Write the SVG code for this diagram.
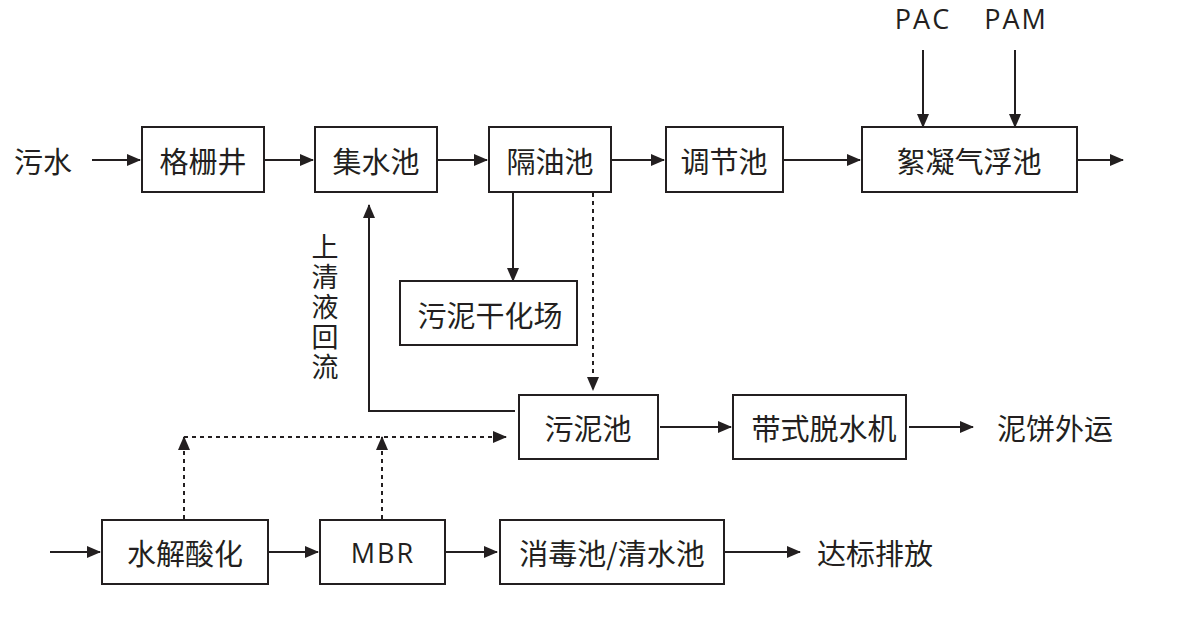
<svg xmlns="http://www.w3.org/2000/svg" width="1200" height="640" viewBox="0 0 1200 640">
<defs>
<style>
.box{fill:#fff;stroke:#231f20;stroke-width:2}
.ln{fill:none;stroke:#231f20;stroke-width:2}
.dot{fill:none;stroke:#231f20;stroke-width:2;stroke-dasharray:4 4}
.t{font-family:"Noto Sans CJK SC","Noto Sans",sans-serif;font-size:29px;fill:#231f20;text-anchor:middle;dominant-baseline:central}
.l{font-family:"Open Sans","Noto Sans",sans-serif;font-size:27px;fill:#231f20;text-anchor:middle;dominant-baseline:central;letter-spacing:2px}
.v{font-family:"Noto Sans CJK SC","Noto Sans",sans-serif;font-size:27px;fill:#231f20;writing-mode:vertical-rl;letter-spacing:3px}
</style>
<marker id="ah" markerUnits="userSpaceOnUse" markerWidth="14" markerHeight="12" refX="13" refY="6" orient="auto">
<path d="M0,0 L14,6 L0,12 Z" fill="#231f20"/>
</marker>
</defs>
<rect width="1200" height="640" fill="#fff"/>

<g id="connectors">
<line class="ln" x1="92" y1="160" x2="140" y2="160" marker-end="url(#ah)"/>
<line class="ln" x1="265" y1="160" x2="313" y2="160" marker-end="url(#ah)"/>
<line class="ln" x1="438" y1="160" x2="487" y2="160" marker-end="url(#ah)"/>
<line class="ln" x1="612" y1="160" x2="664" y2="160" marker-end="url(#ah)"/>
<line class="ln" x1="784" y1="160" x2="860" y2="160" marker-end="url(#ah)"/>
<line class="ln" x1="1078" y1="160" x2="1123" y2="160" marker-end="url(#ah)"/>
<line class="ln" x1="923" y1="50" x2="923" y2="127" marker-end="url(#ah)"/>
<line class="ln" x1="1015" y1="50" x2="1015" y2="127" marker-end="url(#ah)"/>
<line class="ln" x1="513" y1="193" x2="513" y2="281" marker-end="url(#ah)"/>
<line class="dot" x1="593" y1="193" x2="593" y2="390" marker-end="url(#ah)"/>
<polyline class="ln" points="515,411 369,411 369,205" marker-end="url(#ah)"/>
<line class="ln" x1="660" y1="427" x2="731" y2="427" marker-end="url(#ah)"/>
<line class="ln" x1="909" y1="427" x2="973" y2="427" marker-end="url(#ah)"/>
<line class="ln" x1="50" y1="552" x2="100" y2="552" marker-end="url(#ah)"/>
<line class="ln" x1="269" y1="552" x2="318" y2="552" marker-end="url(#ah)"/>
<line class="ln" x1="446" y1="552" x2="497" y2="552" marker-end="url(#ah)"/>
<line class="ln" x1="725" y1="552" x2="800" y2="552" marker-end="url(#ah)"/>
<line class="dot" x1="184" y1="519" x2="184" y2="437" marker-end="url(#ah)"/>
<line class="dot" x1="382" y1="519" x2="382" y2="437" marker-end="url(#ah)"/>
<line class="dot" x1="184" y1="437" x2="506" y2="437" marker-end="url(#ah)"/>
</g>

<g id="labels">
<text class="t" x="43" y="160">污水</text>
<text class="l" x="923" y="18">PAC</text>
<text class="l" x="1016" y="18">PAM</text>
<text class="t" x="1055" y="427">泥饼外运</text>
<text class="t" x="875" y="552">达标排放</text>
<text class="v" x="325" y="233">上清液回流</text>
</g>

<g id="n1"><rect class="box" x="142" y="127" width="122" height="65"/><text class="t" x="203" y="160">格栅井</text></g>
<g id="n2"><rect class="box" x="315" y="127" width="122" height="65"/><text class="t" x="376" y="160">集水池</text></g>
<g id="n3"><rect class="box" x="489" y="127" width="122" height="65"/><text class="t" x="550" y="160">隔油池</text></g>
<g id="n4"><rect class="box" x="666" y="127" width="117" height="65"/><text class="t" x="724" y="160">调节池</text></g>
<g id="n5"><rect class="box" x="862" y="127" width="215" height="65"/><text class="t" x="969" y="160">絮凝气浮池</text></g>
<g id="n6"><rect class="box" x="400" y="281" width="177" height="64"/><text class="t" x="490" y="314">污泥干化场</text></g>
<g id="n7"><rect class="box" x="519" y="395" width="139" height="64"/><text class="t" x="588" y="427">污泥池</text></g>
<g id="n8"><rect class="box" x="733" y="395" width="173" height="64"/><text class="t" x="824" y="427">带式脱水机</text></g>
<g id="n9"><rect class="box" x="102" y="520" width="166" height="64"/><text class="t" x="185" y="552">水解酸化</text></g>
<g id="n10"><rect class="box" x="320" y="520" width="125" height="64"/><text class="l" x="383" y="552">MBR</text></g>
<g id="n11"><rect class="box" x="500" y="520" width="224" height="64"/><text class="t" x="612" y="552">消毒池/清水池</text></g>
</svg>
